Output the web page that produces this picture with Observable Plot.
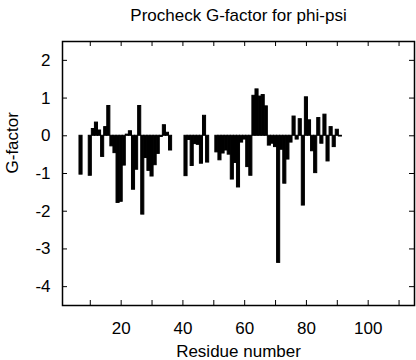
<!DOCTYPE html>
<html>
<head>
<meta charset="utf-8">
<script src="https://cdn.jsdelivr.net/npm/d3@7"></script>
<script src="https://cdn.jsdelivr.net/npm/@observablehq/plot@0.6"></script>
<style>
  html, body { margin: 0; padding: 0; background: white; }
</style>
</head>
<body>
<div id="chart"></div>
<script>
const titleText = "Procheck G-factor for phi-psi";
const xLabel = "Residue number";
const yLabel = "G-factor";

const residues = [
  7, 8, 9, 10, 11, 12, 13, 14, 15, 16, 17, 18, 19, 20, 21, 22, 23, 24, 25, 26,
  27, 28, 29, 30, 31, 32, 33, 34, 35, 36,
  41, 42, 43, 44, 45, 46, 47, 48,
  51, 52, 53, 54, 55, 56, 57, 58, 59, 60, 61, 62, 63, 64, 65, 66, 67, 68, 69, 70,
  71, 72, 73, 74, 75, 76, 77, 78, 79, 80, 81, 82, 83, 84, 85, 86, 87, 88, 89, 90, 91
];
const gfactor = [
  -1.03, 0, 0, -1.06, 0.18, 0.35, 0.14, -0.56, 0.23, 0.79, -0.28, -0.46, -1.78, -1.75, -0.79, 0.03, 0.12, -1.43, -0.9, 0.79,
  -2.09, -0.59, -0.93, -1.08, -0.78, -0.48, -0.03, 0.28, 0.08, -0.39,
  -1.07, -0.11, -0.8, -0.22, -0.24, -0.74, 0.53, -0.71,
  -0.44, -0.65, -0.47, -0.39, -0.5, -1.16, -0.72, -1.37, -0.18, -0.1, -0.83, -1.06, 1.06, 1.23, 1.04, 1.08, 0.78, -0.26, -0.21, -0.3,
  -3.37, -0.37, -1.27, -0.63, -0.18, 0.51, -0.1, 0.44, -1.85, 1.02, 0.41, -0.41, -0.99, 0.47, -0.21, 0.56, -0.68, 0.23, -0.3, 0.16, -0.02
];
const xTicks = [10, 20, 30, 40, 50, 60, 70, 80, 90, 100, 110];
const xTickLabels = [20, 40, 60, 80, 100];
const yTicks = [-4, -3, -2, -1, 0, 1, 2];

const data = residues.map((r, i) => ({residue: r, g: gfactor[i]}));

const W = 416, H = 360;
const mL = 62, mR = 2, mT = 41, mB = 55;
const frameW = W - mL - mR, frameH = H - mT - mB;
const tickLen = 5;

const chart = Plot.plot({
  width: W,
  height: H,
  marginLeft: mL,
  marginRight: mR,
  marginTop: mT,
  marginBottom: mB,
  style: {fontFamily: "'Liberation Sans', Arial, Helvetica, sans-serif", fontSize: "17px", color: "black", background: "white"},
  x: {domain: [1, 115]},
  y: {domain: [-4.5, 2.5]},
  marks: [
    Plot.rectY(data, {
      x1: d => d.residue - 0.5,
      x2: d => d.residue + 0.5,
      y: "g",
      fill: "black",
      stroke: "black",
      strokeWidth: 1
    }),
    // inward ticks on all four sides
    Plot.tickX(xTicks, {x: d => d, insetTop: frameH - tickLen, stroke: "black"}),
    Plot.tickX(xTicks, {x: d => d, insetBottom: frameH - tickLen, stroke: "black"}),
    Plot.tickY(yTicks, {y: d => d, insetRight: frameW - tickLen, stroke: "black"}),
    Plot.tickY(yTicks, {y: d => d, insetLeft: frameW - tickLen, stroke: "black"}),
    Plot.frame({stroke: "black", strokeWidth: 1.5}),
    Plot.axisX({ticks: xTickLabels, tickSize: 0, tickPadding: 16, tickFormat: d => String(d), label: null, fontSize: 17}),
    Plot.axisY({ticks: yTicks, tickSize: 0, tickPadding: 12, tickFormat: d => String(d), label: null, fontSize: 17}),
    Plot.text([titleText], {frameAnchor: "top", dy: -26, lineAnchor: "middle", fontSize: 17, text: d => d}),
    Plot.text([xLabel], {frameAnchor: "bottom", dy: 46, lineAnchor: "middle", fontSize: 17, text: d => d}),
    Plot.text([yLabel], {frameAnchor: "left", dx: -50, rotate: -90, lineAnchor: "middle", fontSize: 17, text: d => d})
  ]
});
document.getElementById("chart").appendChild(chart);
</script>
</body>
</html>
